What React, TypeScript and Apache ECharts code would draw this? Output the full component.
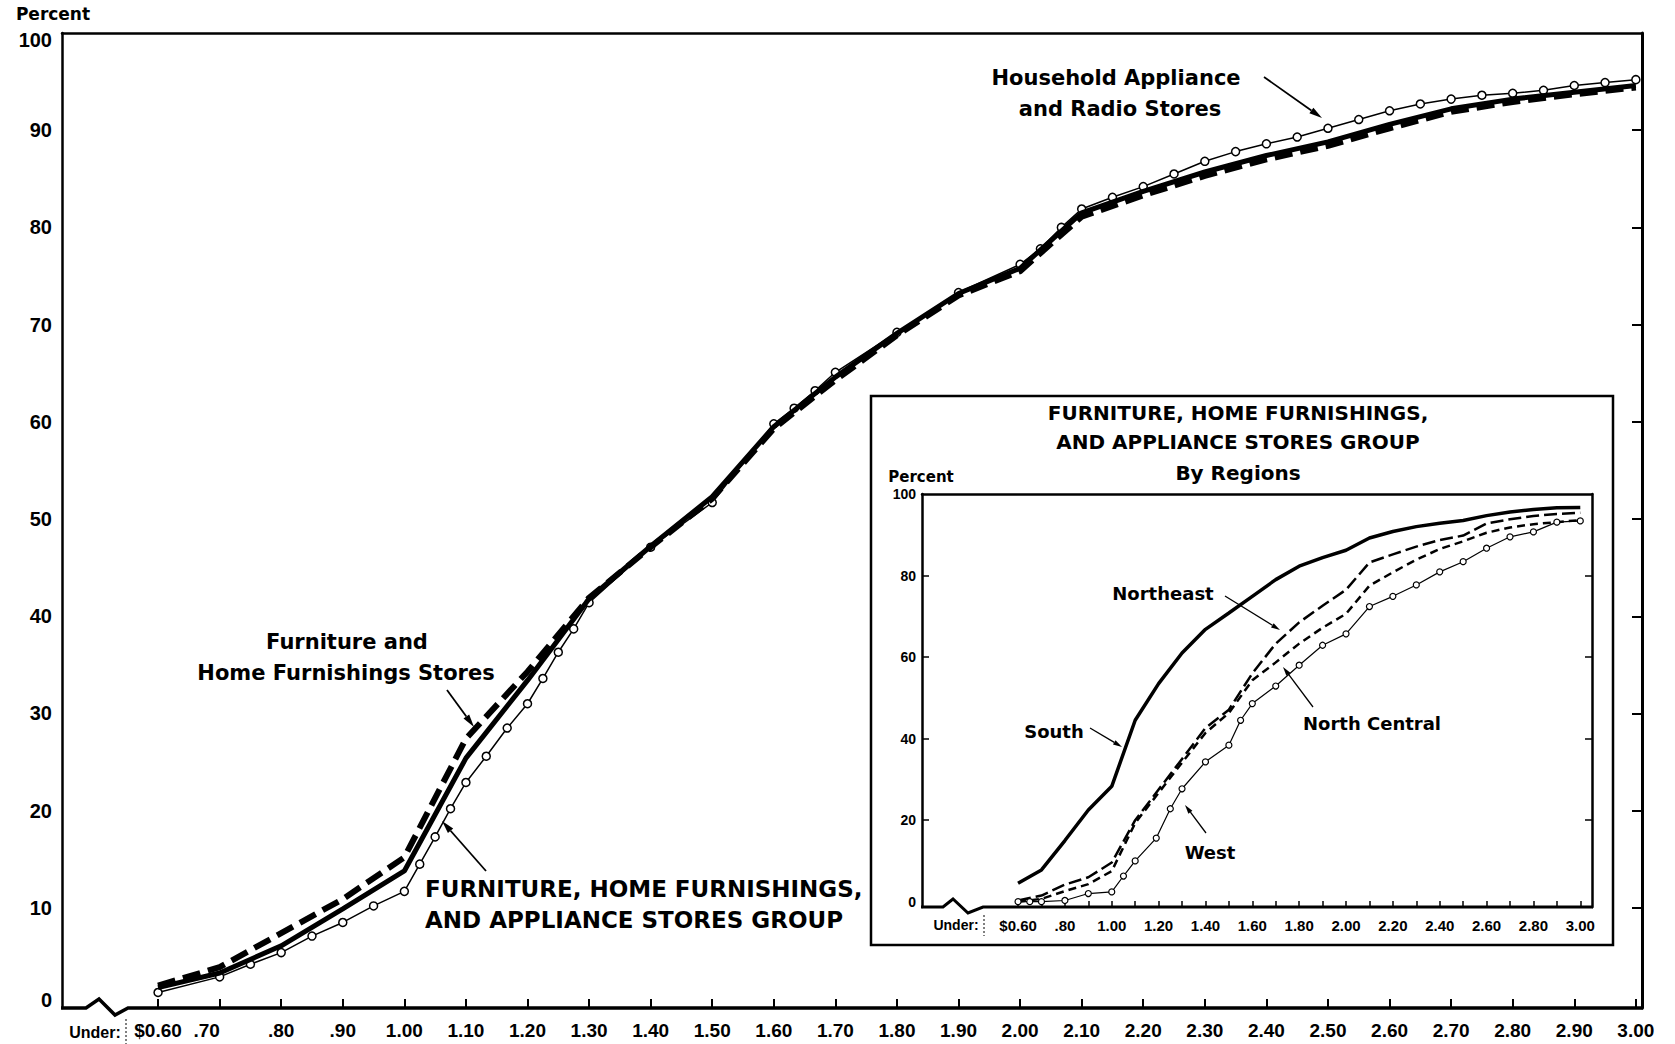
import React, { useEffect, useRef } from "react";
import * as echarts from "echarts";

// ---------- Main chart data ----------
const groupX = [0.6, 0.7, 0.8, 0.9, 1.0, 1.1, 1.2, 1.3, 1.4, 1.5, 1.6, 1.7, 1.8, 1.9, 2.0, 2.1, 2.2, 2.3, 2.4, 2.5, 2.6, 2.7, 2.8, 2.9, 3.0];
const groupY = [1.8, 3.3, 6.1, 9.9, 13.8, 25.4, 33.4, 41.8, 47.2, 52.3, 59.5, 64.6, 69.1, 73.2, 75.8, 81.5, 83.7, 85.7, 87.4, 88.8, 90.6, 92.2, 93.2, 93.9, 94.6];

const furnX = [0.6, 0.7, 0.8, 0.9, 1.0, 1.1, 1.2, 1.3, 1.4, 1.5, 1.6, 1.7, 1.8, 1.9, 2.0, 2.1, 2.2, 2.3, 2.4, 2.5, 2.6, 2.7, 2.8, 2.9, 3.0];
const furnY = [2.0, 3.9, 7.4, 10.9, 15.2, 27.4, 34.3, 41.9, 47.1, 52.1, 59.3, 64.3, 68.9, 73.0, 75.5, 81.1, 83.3, 85.3, 87.0, 88.4, 90.2, 91.9, 92.9, 93.7, 94.4];

const applX = [0.6, 0.7, 0.75, 0.8, 0.85, 0.9, 0.95, 1.0, 1.025, 1.05, 1.075, 1.1, 1.133, 1.167, 1.2, 1.225, 1.25, 1.275, 1.3, 1.4, 1.5, 1.6, 1.633, 1.667, 1.7, 1.8, 1.9, 2.0, 2.033, 2.067, 2.1, 2.15, 2.2, 2.25, 2.3, 2.35, 2.4, 2.45, 2.5, 2.55, 2.6, 2.65, 2.7, 2.75, 2.8, 2.85, 2.9, 2.95, 3.0];
const applY = [1.3, 2.9, 4.2, 5.4, 7.1, 8.5, 10.2, 11.7, 14.5, 17.3, 20.2, 22.9, 25.6, 28.5, 31.0, 33.6, 36.3, 38.7, 41.4, 47.1, 51.7, 59.8, 61.4, 63.2, 65.1, 69.2, 73.3, 76.2, 77.8, 80.0, 81.9, 83.1, 84.2, 85.5, 86.8, 87.8, 88.6, 89.3, 90.2, 91.1, 92.0, 92.7, 93.2, 93.6, 93.8, 94.1, 94.6, 94.9, 95.2];

const mainXTicks = [0.6, 0.7, 0.8, 0.9, 1.0, 1.1, 1.2, 1.3, 1.4, 1.5, 1.6, 1.7, 1.8, 1.9, 2.0, 2.1, 2.2, 2.3, 2.4, 2.5, 2.6, 2.7, 2.8, 2.9, 3.0];
const mainYLabels = [0, 10, 20, 30, 40, 50, 60, 70, 80, 90, 100];
const mainYRightTicks = [10, 20, 30, 40, 50, 60, 70, 80, 90];

// ---------- Inset (by regions) data ----------
const regionX = [0.6, 0.7, 0.8, 0.9, 1.0, 1.1, 1.2, 1.3, 1.4, 1.5, 1.6, 1.7, 1.8, 1.9, 2.0, 2.1, 2.2, 2.3, 2.4, 2.5, 2.6, 2.7, 2.8, 2.9, 3.0];
const southY = [4.5, 7.8, 15.0, 22.5, 28.3, 44.5, 53.5, 61.0, 66.8, 70.8, 74.9, 79.0, 82.3, 84.4, 86.2, 89.2, 90.8, 92.0, 92.8, 93.5, 94.7, 95.6, 96.2, 96.6, 96.7];
const northeastY = [0.3, 1.5, 4.2, 6.0, 9.6, 20.0, 27.5, 35.0, 42.6, 47.1, 56.0, 63.3, 68.5, 72.6, 76.5, 83.2, 85.2, 87.1, 88.7, 89.8, 92.8, 93.8, 94.6, 95.1, 95.4];
const northCentralY = [0.0, 0.7, 2.6, 4.3, 7.5, 19.3, 26.7, 34.1, 41.4, 46.3, 54.3, 58.7, 63.3, 67.2, 70.6, 77.5, 80.8, 83.9, 86.5, 88.4, 90.5, 91.8, 92.6, 93.1, 93.6];
const westX = [0.6, 0.65, 0.7, 0.8, 0.9, 1.0, 1.05, 1.1, 1.19, 1.25, 1.3, 1.4, 1.5, 1.55, 1.6, 1.7, 1.8, 1.9, 2.0, 2.1, 2.2, 2.3, 2.4, 2.5, 2.6, 2.7, 2.8, 2.9, 3.0];
const westY = [0.0, 0.0, 0.0, 0.3, 2.0, 2.4, 6.3, 10.0, 15.6, 22.8, 27.7, 34.3, 38.4, 44.5, 48.6, 52.9, 58.0, 62.9, 65.7, 72.4, 74.9, 77.7, 80.9, 83.4, 86.7, 89.5, 90.7, 93.1, 93.4];

const insetXTicks = [0.6, 0.7, 0.8, 0.9, 1.0, 1.1, 1.2, 1.3, 1.4, 1.5, 1.6, 1.7, 1.8, 1.9, 2.0, 2.1, 2.2, 2.3, 2.4, 2.5, 2.6, 2.7, 2.8, 2.9, 3.0];
const insetXLabels = [0.6, 0.8, 1.0, 1.2, 1.4, 1.6, 1.8, 2.0, 2.2, 2.4, 2.6, 2.8, 3.0];
const insetYLabels = [0, 20, 40, 60, 80, 100];
const insetYTicks = [20, 40, 60, 80];

const zip = (xs: number[], ys: number[]) => xs.map((x, i) => [x, ys[i]]);

const LABEL_FONT = "Liberation Sans";
const ANNO_FONT = "DejaVu Sans";

function fmtWage(v: number) {
  const c = Math.round(v * 100);
  if (c === 60) return "$0.60";
  if (c < 100) return "." + String(c);
  return (c / 100).toFixed(2);
}

function arrow(x1: number, y1: number, x2: number, y2: number, headLen: number, headW: number, lw: number) {
  const dx = x2 - x1;
  const dy = y2 - y1;
  const len = Math.sqrt(dx * dx + dy * dy);
  const ux = dx / len;
  const uy = dy / len;
  const bx = x2 - ux * headLen;
  const by = y2 - uy * headLen;
  const nx = -uy;
  const ny = ux;
  return [
    { type: "line", z: 50, shape: { x1, y1, x2: bx, y2: by }, style: { stroke: "#000", lineWidth: lw } },
    {
      type: "polygon",
      z: 50,
      shape: { points: [[x2, y2], [bx + (nx * headW) / 2, by + (ny * headW) / 2], [bx - (nx * headW) / 2, by - (ny * headW) / 2]] },
      style: { fill: "#000" },
    },
  ];
}

function txt(text: string, x: number, y: number, size: number, align = "center", family = ANNO_FONT) {
  return {
    type: "text",
    z: 50,
    x,
    y,
    style: { text, fontFamily: family, fontWeight: "bold", fontSize: size, fill: "#000", align, verticalAlign: "middle" },
  };
}

export default function App() {
  const ref = useRef<HTMLDivElement>(null);

  useEffect(() => {
    const chart = echarts.init(ref.current as HTMLDivElement, null, { renderer: "svg" });

    const axisBlack = { color: "#000" };
    const yLabelStyle = { color: "#000", fontFamily: LABEL_FONT, fontWeight: "bold", fontSize: 20 };

    const option: any = {
      animation: false,
      backgroundColor: "#fff",
      grid: [
        { left: 62, top: 33, width: 1580, height: 975 },
        { left: 922, top: 494, width: 670, height: 413 },
      ],
      xAxis: [
        {
          gridIndex: 0,
          type: "value",
          min: 0.444,
          max: 3.01,
          position: "bottom",
          axisLine: { show: false, onZero: false },
          axisTick: { show: true, inside: true, length: 9, lineStyle: { ...axisBlack, width: 2 }, customValues: mainXTicks },
          axisLabel: {
            customValues: mainXTicks,
            margin: 13,
            color: "#000",
            fontFamily: LABEL_FONT,
            fontWeight: "bold",
            fontSize: 19,
            formatter: (v: number) => {
              const s = fmtWage(v);
              if (Math.round(v * 100) === 70) return "{s|" + s + "}";
              return s;
            },
            rich: {
              s: { padding: [0, 26, 0, 0], color: "#000", fontFamily: LABEL_FONT, fontWeight: "bold", fontSize: 19 },
            },
          },
          splitLine: { show: false },
        },
        {
          gridIndex: 0,
          type: "value",
          min: 0.444,
          max: 3.01,
          position: "top",
          axisLine: { show: true, onZero: false, lineStyle: { ...axisBlack, width: 2.5 } },
          axisTick: { show: false },
          axisLabel: { show: false },
          splitLine: { show: false },
        },
        {
          gridIndex: 1,
          type: "value",
          min: 0.19,
          max: 3.05,
          position: "bottom",
          axisLine: { show: false, onZero: false },
          axisTick: { show: true, inside: true, length: 6, lineStyle: { ...axisBlack, width: 1.5 }, customValues: insetXTicks },
          axisLabel: {
            customValues: insetXLabels,
            margin: 11,
            color: "#000",
            fontFamily: LABEL_FONT,
            fontWeight: "bold",
            fontSize: 15,
            formatter: (v: number) => fmtWage(v),
          },
          splitLine: { show: false },
        },
        {
          gridIndex: 1,
          type: "value",
          min: 0.19,
          max: 3.05,
          position: "top",
          axisLine: { show: true, onZero: false, lineStyle: { ...axisBlack, width: 2.5 } },
          axisTick: { show: false },
          axisLabel: { show: false },
          splitLine: { show: false },
        },
      ],
      yAxis: [
        {
          gridIndex: 0,
          type: "value",
          min: -0.3,
          max: 100,
          position: "left",
          axisLine: { show: true, onZero: false, lineStyle: { ...axisBlack, width: 2.5 } },
          axisTick: { show: false },
          axisLabel: {
            customValues: mainYLabels,
            margin: 10,
            ...yLabelStyle,
            formatter: (v: number) => {
              const r = Math.round(v);
              if (r === 100) return "{t|100}";
              if (r === 0) return "{b|0}";
              return String(r);
            },
            rich: {
              t: { ...yLabelStyle, padding: [14, 0, 0, 0] },
              b: { ...yLabelStyle, padding: [0, 0, 10, 0] },
            },
          },
          splitLine: { show: false },
        },
        {
          gridIndex: 0,
          type: "value",
          min: -0.3,
          max: 100,
          position: "right",
          axisLine: { show: true, onZero: false, lineStyle: { ...axisBlack, width: 3 } },
          axisTick: { show: true, inside: true, length: 10, lineStyle: { ...axisBlack, width: 2 }, customValues: mainYRightTicks },
          axisLabel: { show: false },
          splitLine: { show: false },
        },
        {
          gridIndex: 1,
          type: "value",
          min: -1.3,
          max: 100,
          position: "left",
          axisLine: { show: true, onZero: false, lineStyle: { ...axisBlack, width: 2.5 } },
          axisTick: { show: true, inside: true, length: 7, lineStyle: { ...axisBlack, width: 1.5 }, customValues: insetYTicks },
          axisLabel: {
            customValues: insetYLabels,
            margin: 6,
            color: "#000",
            fontFamily: LABEL_FONT,
            fontWeight: "bold",
            fontSize: 14,
          },
          splitLine: { show: false },
        },
        {
          gridIndex: 1,
          type: "value",
          min: -1.3,
          max: 100,
          position: "right",
          axisLine: { show: true, onZero: false, lineStyle: { ...axisBlack, width: 2.5 } },
          axisTick: { show: true, inside: true, length: 7, lineStyle: { ...axisBlack, width: 1.5 }, customValues: insetYTicks },
          axisLabel: { show: false },
          splitLine: { show: false },
        },
      ],
      series: [
        {
          name: "Household Appliance and Radio Stores",
          type: "line",
          xAxisIndex: 0,
          yAxisIndex: 0,
          z: 2,
          data: zip(applX, applY),
          symbol: "circle",
          symbolSize: 8,
          showSymbol: true,
          lineStyle: { color: "#000", width: 1.5 },
          itemStyle: { color: "#fff", borderColor: "#000", borderWidth: 1.5 },
          silent: true,
        },
        {
          name: "Furniture and Home Furnishings Stores",
          type: "line",
          xAxisIndex: 0,
          yAxisIndex: 0,
          z: 3,
          data: zip(furnX, furnY),
          showSymbol: false,
          lineStyle: { color: "#000", width: 6, type: [18, 8], cap: "butt" },
          silent: true,
        },
        {
          name: "Furniture, Home Furnishings, and Appliance Stores Group",
          type: "line",
          xAxisIndex: 0,
          yAxisIndex: 0,
          z: 4,
          data: zip(groupX, groupY),
          showSymbol: false,
          lineStyle: { color: "#000", width: 5 },
          silent: true,
        },
        {
          name: "South",
          type: "line",
          xAxisIndex: 2,
          yAxisIndex: 2,
          data: zip(regionX, southY),
          showSymbol: false,
          lineStyle: { color: "#000", width: 3.5 },
          silent: true,
        },
        {
          name: "Northeast",
          type: "line",
          xAxisIndex: 2,
          yAxisIndex: 2,
          data: zip(regionX, northeastY),
          showSymbol: false,
          lineStyle: { color: "#000", width: 2.5, type: [13, 5], cap: "butt" },
          silent: true,
        },
        {
          name: "North Central",
          type: "line",
          xAxisIndex: 2,
          yAxisIndex: 2,
          data: zip(regionX, northCentralY),
          showSymbol: false,
          lineStyle: { color: "#000", width: 2.5, type: [8, 5], cap: "butt" },
          silent: true,
        },
        {
          name: "West",
          type: "line",
          xAxisIndex: 2,
          yAxisIndex: 2,
          data: zip(westX, westY),
          symbol: "circle",
          symbolSize: 6,
          showSymbol: true,
          lineStyle: { color: "#000", width: 1.2 },
          itemStyle: { color: "#fff", borderColor: "#000", borderWidth: 1.2 },
          silent: true,
        },
      ],
      graphic: {
        elements: [
          // main axis decorations
          txt("Percent", 53, 14, 17),
          {
            type: "polyline",
            z: 40,
            shape: { points: [[61, 1008], [86, 1008], [99, 999], [115, 1015], [128, 1008], [1643, 1008]] },
            style: { stroke: "#000", lineWidth: 3.5, fill: null },
          },
          txt("Under:", 95, 1032, 16, "center", LABEL_FONT),
          { type: "line", z: 40, shape: { x1: 126, y1: 1019, x2: 126, y2: 1044 }, style: { stroke: "#000", lineWidth: 1, lineDash: [2, 2] } },

          // main annotations
          txt("Household Appliance", 1116, 78, 21),
          txt("and Radio Stores", 1120, 109, 21),
          ...arrow(1264, 77, 1322, 118, 13, 7, 1.8),
          txt("Furniture and", 347, 642, 21),
          txt("Home Furnishings Stores", 346, 673, 21),
          ...arrow(447, 690, 474, 727, 13, 7, 1.8),
          txt("FURNITURE, HOME FURNISHINGS,", 425, 889, 23, "left"),
          txt("AND APPLIANCE STORES GROUP", 425, 920, 23, "left"),
          ...arrow(486, 871, 442, 821, 13, 7, 1.8),

          // inset frame and titles
          {
            type: "rect",
            z: 40,
            shape: { x: 871, y: 396, width: 742, height: 549 },
            style: { stroke: "#000", lineWidth: 2.5, fill: null },
          },
          txt("FURNITURE, HOME FURNISHINGS,", 1238, 413, 20),
          txt("AND APPLIANCE STORES GROUP", 1238, 442, 20),
          txt("By Regions", 1238, 473, 20),
          txt("Percent", 921, 477, 15),
          {
            type: "polyline",
            z: 40,
            shape: { points: [[921, 907], [943, 907], [953, 899], [968, 913], [983, 907], [1593, 907]] },
            style: { stroke: "#000", lineWidth: 3, fill: null },
          },
          txt("Under:", 956, 925, 14, "center", LABEL_FONT),
          { type: "line", z: 40, shape: { x1: 984, y1: 915, x2: 984, y2: 936 }, style: { stroke: "#000", lineWidth: 1, lineDash: [2, 2] } },

          // inset annotations
          txt("Northeast", 1163, 593, 18),
          ...arrow(1225, 596, 1280, 630, 9, 5, 1.3),
          txt("South", 1054, 731, 18),
          ...arrow(1090, 728, 1122, 747, 9, 5, 1.3),
          txt("North Central", 1372, 723, 18),
          ...arrow(1313, 707, 1283, 667, 9, 5, 1.3),
          txt("West", 1210, 852, 18),
          ...arrow(1206, 833, 1185, 805, 9, 5, 1.3),
        ],
      },
    };

    chart.setOption(option);
    return () => chart.dispose();
  }, []);

  return (
    <div
      ref={ref}
      style={{ position: "fixed", left: 0, top: 0, width: 1675, height: 1044, background: "#fff" }}
    />
  );
}
